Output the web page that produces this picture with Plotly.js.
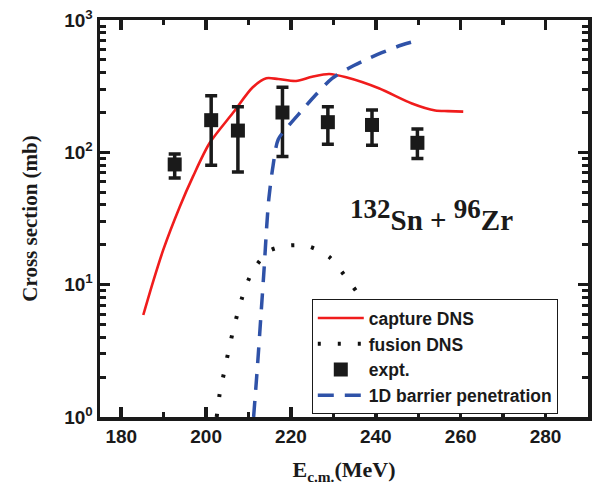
<!DOCTYPE html>
<html>
<head>
<meta charset="utf-8">
<script src="https://cdn.plot.ly/plotly-3.0.1.min.js"></script>
<style>html,body{margin:0;padding:0;background:#fff;}#chart{width:594px;height:491px;}</style>
</head>
<body>
<div id="chart"></div>
<script>
// capture DNS (red solid)
var captureE = [185.2, 187.5, 189.9, 193.8, 196.9, 200.8, 206.3, 211.0, 214.2, 217.0, 221.2, 225.0, 229.0, 233.0, 240.7, 248.5, 254.0, 257.0, 260.6];
var captureSigma = [5.9, 10.5, 18.3, 38.8, 65.5, 117, 198, 310, 363, 358, 346, 372, 391, 369, 305, 234, 207, 205, 203];

// fusion DNS (black dotted)
var fusionE = [202.5, 203.2, 204.2, 205.2, 206.3, 207.5, 209.0, 211.0, 214.9, 219.6, 224.3, 229.1, 233.0, 236.4, 240.0, 245.0];
var fusionSigma = [1.0, 1.49, 2.14, 3.05, 4.4, 6.2, 8.95, 12.7, 18.0, 19.8, 19.4, 16.1, 11.3, 8.0, 5.0, 2.6];

// 1D barrier penetration (blue dashed)
var barrierE = [211.2, 212.1, 212.9, 213.7, 214.3, 214.8, 215.8, 217.0, 219.6, 222.7, 225.8, 229.7, 233.6, 237.9, 241.4, 246.1, 249.6];
var barrierSigma = [1.0, 2.4, 5.7, 13.6, 28, 45, 80, 125, 161, 209, 271, 362, 432, 505, 566, 647, 698];

// experimental points
var exptE = [192.6, 201.2, 207.5, 218.0, 228.7, 239.1, 249.8];
var exptSigma = [81, 175, 146, 200, 169, 161, 118];
var exptUpper = [97, 268, 221, 310, 221, 209, 150];
var exptLower = [64, 80, 71, 93, 115, 113, 90];

// axis ticks
var xTickVals = [180, 200, 220, 240, 260, 280];
var xTickText = ['180', '200', '220', '240', '260', '280'];
var xMinorVals = [190, 210, 230, 250, 270];
var yTickVals = [1, 10, 100, 1000];
var yTickText = ['10<sup>0</sup>', '10<sup>1</sup>', '10<sup>2</sup>', '10<sup>3</sup>'];
var yMinorVals = [2,3,4,5,6,7,8,9,20,30,40,50,60,70,80,90,200,300,400,500,600,700,800,900];

var errPlus = exptUpper.map(function(u, i){ return u - exptSigma[i]; });
var errMinus = exptSigma.map(function(s, i){ return s - exptLower[i]; });
function bold(t){ return '<b>' + t + '</b>'; }

var sans = 'Liberation Sans, Arial, sans-serif';
var serif = 'Liberation Serif, Times New Roman, serif';

var traces = [
  {x: captureE, y: captureSigma, name: bold('capture DNS'), mode: 'lines',
   line: {color: '#f01c1c', width: 2.6, shape: 'spline', smoothing: 0.8}},
  {x: fusionE, y: fusionSigma, name: bold('fusion DNS'), mode: 'lines',
   line: {color: '#111111', width: 4, dash: '3px,17px', shape: 'spline', smoothing: 0.8}},
  {x: exptE, y: exptSigma, name: bold('expt.'), mode: 'markers',
   marker: {symbol: 'square', size: 14, color: '#1a1a1a'},
   error_y: {type: 'data', symmetric: false, array: errPlus, arrayminus: errMinus,
             color: '#1a1a1a', thickness: 3.5, width: 6}},
  {x: barrierE, y: barrierSigma, name: bold('1D barrier penetration'), mode: 'lines',
   line: {color: '#2f52a8', width: 3.5, dash: '16px,11px', shape: 'spline', smoothing: 0.8}}
];

var axisCommon = {
  showline: true, linewidth: 3.5, linecolor: '#1a1a1a', mirror: 'ticks',
  ticks: 'inside', ticklen: 10, tickwidth: 3.5, tickcolor: '#1a1a1a',
  showgrid: false, zeroline: false,
  tickfont: {family: sans, size: 19, color: '#1a1a1a'}
};

var layout = {
  width: 594, height: 491,
  margin: {l: 100, r: 6, t: 20, b: 74},
  paper_bgcolor: '#ffffff', plot_bgcolor: '#ffffff',
  showlegend: true,
  xaxis: Object.assign({}, axisCommon, {
    range: [175, 290], tickmode: 'array', tickvals: xTickVals, ticktext: xTickText.map(bold),
    minor: {tickmode: 'array', tickvals: xMinorVals, ticks: 'inside', ticklen: 5, tickwidth: 3.5, tickcolor: '#1a1a1a'},
    title: {text: bold('E<sub>c.m.</sub>(MeV)'), font: {family: serif, size: 22, color: '#1a1a1a'}, standoff: 16}
  }),
  yaxis: Object.assign({}, axisCommon, {
    type: 'log', range: [0, 3], tickmode: 'array', tickvals: yTickVals, ticktext: yTickText.map(bold),
    minor: {tickmode: 'array', tickvals: yMinorVals, ticks: 'inside', ticklen: 6, tickwidth: 3, tickcolor: '#1a1a1a'},
    title: {text: bold('Cross section (mb)'), font: {family: serif, size: 21, color: '#1a1a1a'}, standoff: 22}
  }),
  legend: {
    x: 0.434, y: 0.297, xanchor: 'left', yanchor: 'top',
    bgcolor: '#ffffff', bordercolor: '#1a1a1a', borderwidth: 1,
    font: {family: sans, size: 17.5, color: '#1a1a1a'},
    itemwidth: 46
  },
  annotations: [{
    xref: 'paper', yref: 'paper', x: 0.679, y: 0.51, xanchor: 'center', yanchor: 'middle',
    showarrow: false,
    text: bold('<sup><span style="font-size:27px">132</span></sup>Sn + <sup><span style="font-size:27px">96</span></sup>Zr'),
    font: {family: serif, size: 29, color: '#1a1a1a'}
  }]
};

Plotly.newPlot('chart', traces, layout, {displayModeBar: false, staticPlot: true});
</script>
</body>
</html>
